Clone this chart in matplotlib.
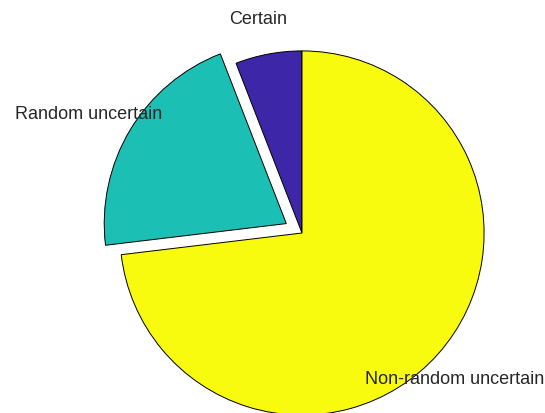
import matplotlib
matplotlib.use("Agg")
import matplotlib.pyplot as plt

labels = ["Certain", "Random uncertain", "Non-random uncertain"]
values = [5.9, 21.0, 73.1]
explode = [0.0, 0.1, 0.0]
colors = ["#3E26A8", "#1BBFB4", "#F9FB0E"]
label_pos = [(-0.240, 1.165), (-1.164, 0.646), (0.832, -0.800)]

plt.rcParams['font.family'] = ['Liberation Sans', 'DejaVu Sans']
fig = plt.figure(figsize=(5.45, 4.13), dpi=100)
ax = fig.add_axes([0, 0, 1, 1])
wedges, texts = ax.pie(values, explode=explode, colors=colors, labels=labels,
                       startangle=90, counterclock=True, radius=0.995,
                       wedgeprops=dict(edgecolor="black", linewidth=0.7),
                       textprops=dict(fontsize=13, color="#262626"))
for t, (x, y) in zip(texts, label_pos):
    t.set_position((x, y))
    t.set_ha("center")
    t.set_va("center")

W, H = 545, 413
cx, cy, r = 302, 233, 183
ax.set_xlim(-cx / r, (W - cx) / r)
ax.set_ylim(-(H - cy) / r, cy / r)
ax.set_aspect("auto")
ax.axis("off")
fig.savefig("out.png", dpi=100)
